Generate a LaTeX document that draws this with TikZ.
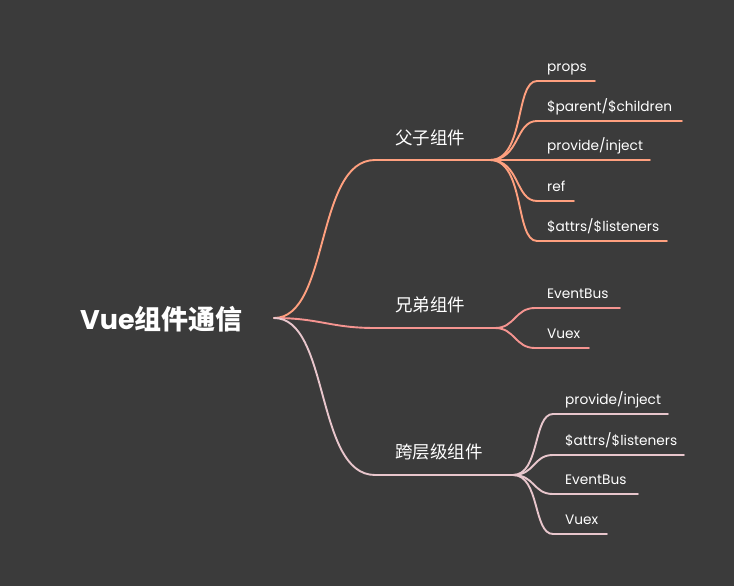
\documentclass[tikz,border=0pt]{standalone}
\usepackage{fontspec}
\setmainfont{Poppins}
\newfontfamily\cjk{Noto Sans CJK SC}
\definecolor{bgc}{RGB}{59,59,59}
\definecolor{cA}{RGB}{255,160,127}
\definecolor{cB}{RGB}{245,148,144}
\definecolor{cC}{RGB}{232,198,204}
\begin{document}
\begin{tikzpicture}[x=1pt,y=-1pt,
  conn/.style={line width=1.9pt,line cap=round},
  leaf/.style={anchor=base west,inner sep=0pt,text=white,font=\fontsize{13.7}{16}\selectfont},
  branch/.style={anchor=west,inner sep=0pt,text=white,font=\fontsize{17.5}{20}\selectfont\cjk},
  rootlbl/.style={anchor=west,inner sep=0pt,text=white,font=\fontsize{27}{32}\selectfont\bfseries}]
\fill[bgc] (0,0) rectangle (734,586);
\useasboundingbox (0,0) rectangle (734,586);

% root
\node[rootlbl] (root) at (80,319) {Vue{\cjk\bfseries 组件通信}};
\coordinate (R) at (274,318);

% branch hubs
\coordinate (b1s) at (375,160); \coordinate (h1) at (490,160);
\coordinate (b2s) at (375,328); \coordinate (h2) at (495,328);
\coordinate (b3s) at (375,475); \coordinate (h3) at (513,475);

\draw[conn,cA] (R) .. controls (330,318) and (315,160) .. (b1s) -- (h1);
\draw[conn,cB] (R) .. controls (320,318) and (330,328) .. (b2s) -- (h2);
\draw[conn,cC] (R) .. controls (330,318) and (315,475) .. (b3s) -- (h3);

\node[branch] (n1) at (395,138) {父子组件};
\node[branch] (n2) at (395,305) {兄弟组件};
\node[branch] (n3) at (395,452) {跨层级组件};

% branch 1 leaves
\coordinate (a1s) at (537,81);  \coordinate (a1e) at (595,81);
\coordinate (a2s) at (537,121); \coordinate (a2e) at (682,121);
\coordinate (a3e) at (650,160);
\coordinate (a4s) at (537,201); \coordinate (a4e) at (574,201);
\coordinate (a5s) at (537,241); \coordinate (a5e) at (667,241);
\draw[conn,cA] (h1) .. controls (525,160) and (515,81) .. (a1s) -- (a1e);
\draw[conn,cA] (h1) .. controls (520,160) and (515,121) .. (a2s) -- (a2e);
\draw[conn,cA] (h1) -- (a3e);
\draw[conn,cA] (h1) .. controls (520,160) and (515,201) .. (a4s) -- (a4e);
\draw[conn,cA] (h1) .. controls (525,160) and (515,241) .. (a5s) -- (a5e);
\node[leaf] (l1) at (547,71) {props};
\node[leaf] (l2) at (547,111) {\$parent/\$children};
\node[leaf] (l3) at (547,150) {provide/inject};
\node[leaf] (l4) at (547,191) {ref};
\node[leaf] (l5) at (547,231) {\$attrs/\$listeners};

% branch 2 leaves
\coordinate (c1s) at (535,308); \coordinate (c1e) at (620,308);
\coordinate (c2s) at (535,348); \coordinate (c2e) at (589,348);
\draw[conn,cB] (h2) .. controls (515,328) and (515,308) .. (c1s) -- (c1e);
\draw[conn,cB] (h2) .. controls (515,328) and (515,348) .. (c2s) -- (c2e);
\node[leaf] (m1) at (547,298) {EventBus};
\node[leaf] (m2) at (547,338) {Vuex};

% branch 3 leaves
\coordinate (d1s) at (553,414); \coordinate (d1e) at (668,414);
\coordinate (d2s) at (553,455); \coordinate (d2e) at (684,455);
\coordinate (d3s) at (553,494); \coordinate (d3e) at (638,494);
\coordinate (d4s) at (553,534); \coordinate (d4e) at (607,534);
\draw[conn,cC] (h3) .. controls (540,475) and (533,414) .. (d1s) -- (d1e);
\draw[conn,cC] (h3) .. controls (535,475) and (533,455) .. (d2s) -- (d2e);
\draw[conn,cC] (h3) .. controls (535,475) and (533,494) .. (d3s) -- (d3e);
\draw[conn,cC] (h3) .. controls (540,475) and (533,534) .. (d4s) -- (d4e);
\node[leaf] (k1) at (565,404) {provide/inject};
\node[leaf] (k2) at (565,445) {\$attrs/\$listeners};
\node[leaf] (k3) at (565,484) {EventBus};
\node[leaf] (k4) at (565,524) {Vuex};
\end{tikzpicture}
\end{document}
